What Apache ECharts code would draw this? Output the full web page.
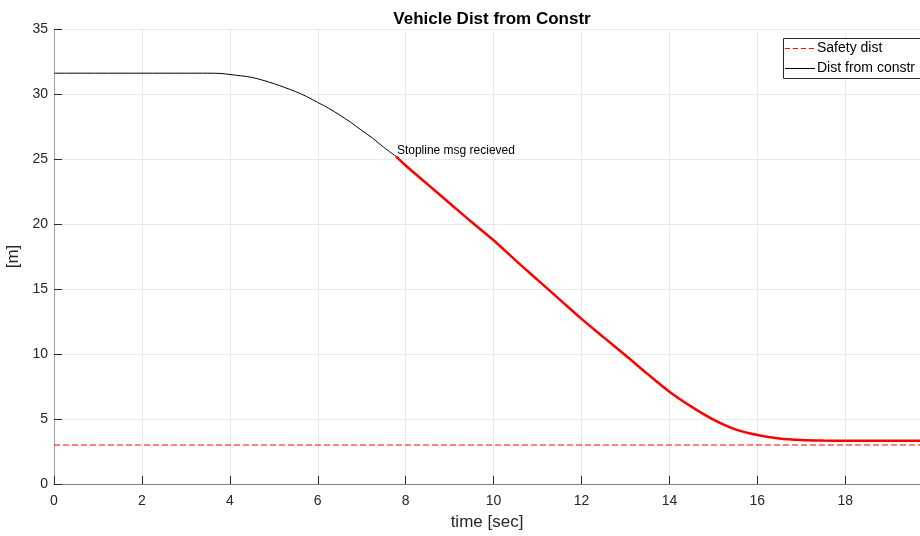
<!DOCTYPE html>
<html>
<head>
<meta charset="utf-8">
<script src="https://cdn.jsdelivr.net/npm/echarts@6/dist/echarts.min.js"></script>
<style>
  html, body { margin: 0; padding: 0; background: #fff; }
  #chart { width: 920px; height: 536px; }
</style>
</head>
<body>
<div id="chart"></div>
<script>
// Distance before the stop-line message (time in s, distance in m)
const approachTime = [0, 1, 2, 3, 3.5, 3.8, 4.0, 4.25, 4.5, 4.75, 5.0, 5.25, 5.5, 5.75, 6.0, 6.25, 6.5, 6.75, 7.0, 7.25, 7.5, 7.78];
const approachDist = [31.6, 31.6, 31.6, 31.6, 31.6, 31.58, 31.5, 31.4, 31.28, 31.06, 30.8, 30.5, 30.18, 29.8, 29.35, 28.9, 28.38, 27.82, 27.2, 26.6, 25.9, 25.2];

// Distance after the stop-line message
const stopTime = [7.78, 8, 8.5, 9, 9.5, 10, 10.5, 11, 11.5, 12, 12.5, 13, 13.5, 14, 14.5, 15, 15.5, 16, 16.5, 17, 17.5, 18, 19, 19.7];
const stopDist = [25.2, 24.5, 23.05, 21.6, 20.15, 18.75, 17.2, 15.7, 14.2, 12.7, 11.3, 9.9, 8.47, 7.1, 5.95, 4.95, 4.2, 3.77, 3.5, 3.38, 3.34, 3.33, 3.33, 3.33];

// Safety distance threshold
const safetyTime = [0, 19.7];
const safetyDist = [3, 3];

const legendNames = ['Safety dist', 'Dist from constr'];
const annotationText = 'Stopline msg recieved';
const annotationPoint = [7.8, 25.65];

const pairs = (xs, ys) => xs.map((x, i) => [x, ys[i]]);

const chart = echarts.init(document.getElementById('chart'));
const font = 'Liberation Sans, Arial, Helvetica, sans-serif';

chart.setOption({
  animation: false,
  backgroundColor: '#ffffff',
  title: {
    text: 'Vehicle Dist from Constr',
    left: 487,
    textAlign: 'center',
    top: 6,
    textStyle: { fontFamily: font, fontSize: 17, fontWeight: 'bold', color: '#000' }
  },
  grid: { left: 54, right: 0, top: 29, bottom: 52, containLabel: false, outerBoundsMode: 'none' },
  xAxis: {
    type: 'value',
    min: 0,
    max: 19.7,
    interval: 2,
    name: 'time [sec]',
    nameLocation: 'middle',
    nameGap: 30,
    nameTextStyle: { fontFamily: font, fontSize: 17, color: '#262626' },
    axisLine: { show: true, lineStyle: { color: '#808080', width: 1 } },
    axisTick: { show: true, inside: true, length: 8, lineStyle: { color: '#262626' } },
    axisLabel: { fontFamily: font, fontSize: 14, color: '#262626', margin: 10, showMaxLabel: false },
    splitLine: { show: true, lineStyle: { color: '#e8e8e8', width: 1 } }
  },
  yAxis: {
    type: 'value',
    min: 0,
    max: 35,
    interval: 5,
    name: '[m]',
    nameLocation: 'middle',
    nameGap: 31,
    nameRotate: 90,
    nameTextStyle: { fontFamily: font, fontSize: 17, color: '#262626' },
    axisLine: { show: true, lineStyle: { color: '#a0a0a0', width: 1 } },
    axisTick: { show: true, inside: true, length: 8, lineStyle: { color: '#262626' } },
    axisLabel: { fontFamily: font, fontSize: 14, color: '#262626', margin: 6 },
    splitLine: { show: true, lineStyle: { color: '#e8e8e8', width: 1 } }
  },
  series: [
    {
      name: legendNames[0],
      type: 'line',
      data: pairs(safetyTime, safetyDist),
      symbol: 'none',
      lineStyle: { color: '#ff0000', width: 1, type: [6, 3] },
      z: 2
    },
    {
      name: legendNames[1],
      type: 'line',
      data: pairs(approachTime, approachDist),
      symbol: 'none',
      smooth: 0.3,
      lineStyle: { color: '#000000', width: 1 },
      z: 3,
      markPoint: {
        symbol: 'circle',
        symbolSize: 0,
        data: [{ coord: annotationPoint }],
        label: {
          show: true,
          position: 'right',
          distance: 0,
          formatter: annotationText,
          fontFamily: font,
          fontSize: 12,
          color: '#000'
        }
      }
    },
    {
      name: 'Stop phase',
      type: 'line',
      data: pairs(stopTime, stopDist),
      symbol: 'none',
      smooth: 0.3,
      lineStyle: { color: '#ff0000', width: 2.5 },
      z: 4
    }
  ],
  // Legend box in the upper right corner
  graphic: [
    { type: 'rect', shape: { x: 783.5, y: 38.5, width: 160, height: 40 }, style: { fill: '#fff', stroke: '#262626', lineWidth: 1 }, z: 100 },
    { type: 'line', shape: { x1: 785, y1: 48.5, x2: 815, y2: 48.5 }, style: { stroke: '#ff0000', lineWidth: 1, lineDash: [5, 3] }, z: 101 },
    { type: 'line', shape: { x1: 785, y1: 68.5, x2: 815, y2: 68.5 }, style: { stroke: '#000000', lineWidth: 1 }, z: 101 },
    { type: 'text', x: 817, y: 48, style: { text: legendNames[0], font: '14px ' + font, fill: '#000', textVerticalAlign: 'middle' }, z: 101 },
    { type: 'text', x: 817, y: 68, style: { text: legendNames[1], font: '14px ' + font, fill: '#000', textVerticalAlign: 'middle' }, z: 101 }
  ]
});
</script>
</body>
</html>
